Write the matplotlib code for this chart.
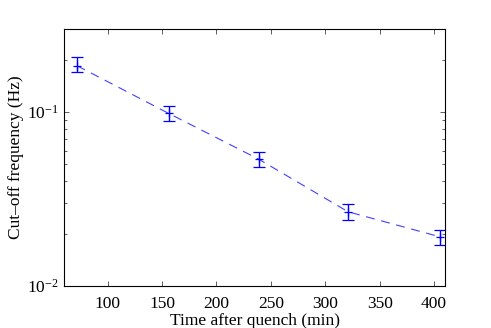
import matplotlib
matplotlib.use("Agg")
import matplotlib.pyplot as plt
from matplotlib.ticker import LogLocator, NullFormatter

plt.rcParams['font.family'] = ['Liberation Serif', 'DejaVu Serif']
plt.rcParams['mathtext.fontset'] = 'custom'
plt.rcParams['mathtext.rm'] = 'Liberation Serif'
plt.rcParams['mathtext.it'] = 'Liberation Serif:italic'

time_min = [72, 156, 239, 321, 405]
cutoff_hz = [0.1845, 0.0983, 0.0535, 0.0267, 0.0192]
err_low = [0.170, 0.0884, 0.0485, 0.0241, 0.01726]
err_high = [0.207, 0.108, 0.0586, 0.0296, 0.0211]
x_ticks = [100, 150, 200, 250, 300, 350, 400]

yerr = [[c - l for c, l in zip(cutoff_hz, err_low)],
        [h - c for c, h in zip(cutoff_hz, err_high)]]

fig = plt.figure(figsize=(4.91, 3.28), dpi=100)
ax = fig.add_axes([64/491, 1-286/328, (445-64)/491, (286-29)/328])
ax.plot(time_min, cutoff_hz, linestyle=(0, (8, 6)), color='#4040ff', linewidth=0.8)
ax.errorbar(time_min, cutoff_hz, yerr=yerr, fmt='+', color='blue', ecolor='blue',
            capsize=4, elinewidth=1.0, capthick=1.0, markersize=6, mew=0.9)
ax.set_yscale('log')
ax.set_xlim(60, 410)
ax.set_ylim(0.01, 0.3)
ax.set_xticks(x_ticks)
ax.yaxis.set_major_locator(LogLocator(base=10, numticks=10))
ax.yaxis.set_minor_locator(LogLocator(base=10, subs=range(2, 10), numticks=10))
ax.yaxis.set_minor_formatter(NullFormatter())
ax.tick_params(which='both', direction='in', top=True, right=True, labelsize=12.5,
               color='#444444', width=0.6)
ax.tick_params(which='major', length=3.5, pad=4)
ax.tick_params(axis='x', which='major', pad=7)
ax.tick_params(which='minor', length=2)
for s in ax.spines.values():
    s.set_linewidth(0.8)
ax.set_xlabel('Time after quench (min)', fontsize=12.5, labelpad=1)
ax.set_ylabel('Cut\u2013off frequency (Hz)', fontsize=12.5, labelpad=2)
fig.savefig('out.png', dpi=100)
